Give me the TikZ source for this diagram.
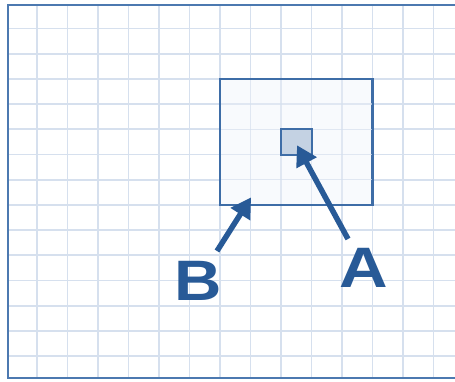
\documentclass[tikz,border=0pt]{standalone}
\usepackage{fontspec}
\setmainfont{Liberation Sans}
\usetikzlibrary{arrows.meta}
\definecolor{gridc}{HTML}{D6E0EE}
\definecolor{framec}{HTML}{4C79B0}
\definecolor{boxc}{HTML}{3E6DA7}
\definecolor{boxfill}{HTML}{F8FAFD}
\definecolor{pixfill}{HTML}{C4D2E3}
\definecolor{markc}{HTML}{285A97}
\tikzset{
  gridline/.style={draw=gridc, line width=1.9pt},
  framel/.style={draw=framec, line width=2.8pt},
  regionbox/.style={draw=boxc, fill=boxfill, line width=2.2pt},
  pixelbox/.style={draw=boxc, fill=pixfill, line width=2pt},
  pointer/.style={draw=markc, line width=5.5pt, -{Triangle[length=20pt,width=22pt]}, shorten >=-2pt},
  letter/.style={text=markc, font=\fontsize{57}{57}\selectfont\bfseries, inner sep=0pt}
}
\begin{document}
\begin{tikzpicture}[x=1pt,y=-1pt]
\useasboundingbox (0,0) rectangle (455,381);
\fill[white] (0,0) rectangle (455,381);
% grid
\foreach \k in {0,...,13} {
  \draw[gridline] ({37+30.5*\k},5) -- ({37+30.5*\k},378);
}
\foreach \k in {0,...,13} {
  \draw[gridline] (8,{28.5+25.2*\k}) -- (455,{28.5+25.2*\k});
}
% region box and pixel
\draw[regionbox] (220,78.9) rectangle (372.5,204.9);
\foreach \k in {1,...,4} {
  \draw[draw=gridc, line width=1.5pt, opacity=0.7] ({220+30.5*\k},80) -- ({220+30.5*\k},204);
  \draw[draw=gridc, line width=1.5pt, opacity=0.7] (221,{78.9+25.2*\k}) -- (371.5,{78.9+25.2*\k});
}
\node[pixelbox, minimum width=30.5pt, minimum height=25.2pt, inner sep=0pt] (pixel) at (296.25,141.9) {};
% frame
\draw[framel] (455,5) -- (8,5) -- (8,378) -- (455,378);
% labels
\node[letter] (A) at (364,268) {\scalebox{1.18}[1]{A}};
\node[letter] (B) at (198.5,281) {\scalebox{1.15}[1]{B}};
\coordinate (tailA) at (348,239);
\coordinate (tipA) at (298,147);
\coordinate (tailB) at (217,251);
\coordinate (tipB) at (250,199);
\draw[pointer] (tailA) -- (tipA);
\draw[pointer] (tailB) -- (tipB);
\end{tikzpicture}
\end{document}
